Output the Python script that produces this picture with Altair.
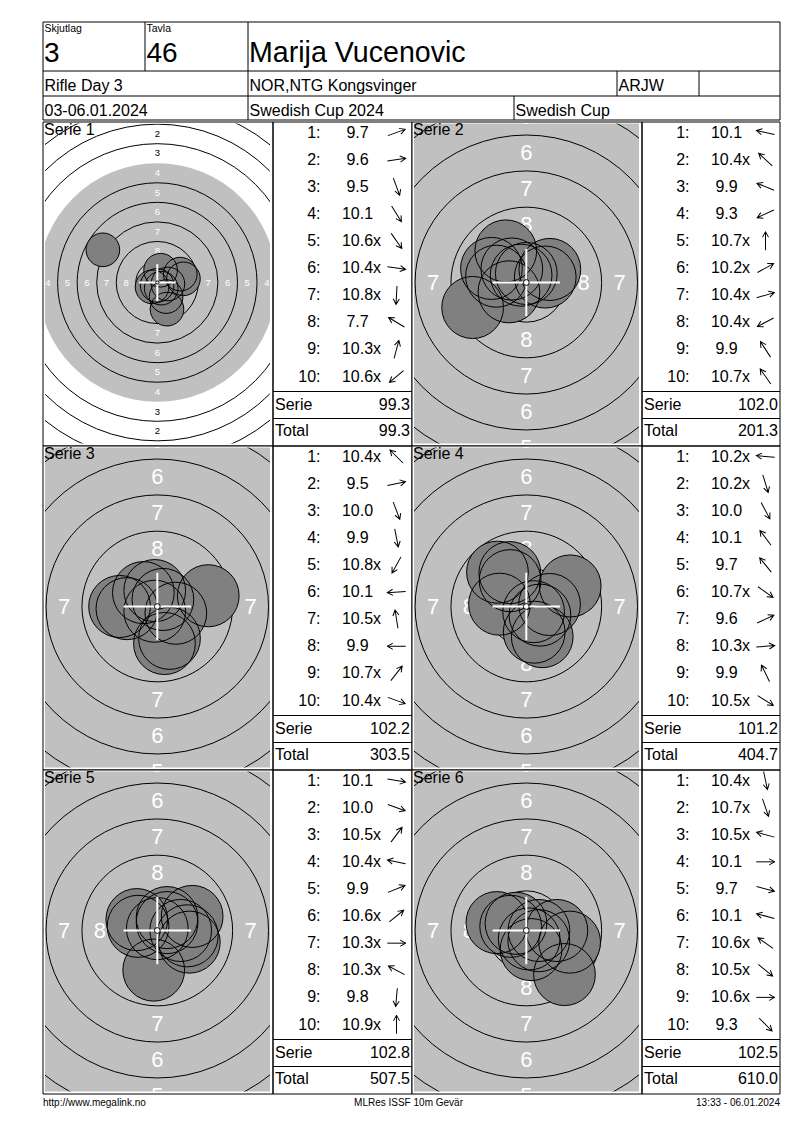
import altair as alt
import pandas as pd

FONT = "Liberation Sans"

# ---------------- values read from the scorecard ----------------
SQUAD_LABEL = "Skjutlag"
SQUAD = "3"
LANE_LABEL = "Tavla"
LANE = "46"
SHOOTER = "Marija Vucenovic"
EVENT = "Rifle Day 3"
CLUB = "NOR,NTG Kongsvinger"
CLASS = "ARJW"
DATES = "03-06.01.2024"
COMPETITION = "Swedish Cup 2024"
CUP = "Swedish Cup"
FOOTER_LEFT = "http://www.megalink.no"
FOOTER_MID = "MLRes ISSF 10m Gevär"
FOOTER_RIGHT = "13:33 - 06.01.2024"
SERIE_WORD = "Serie"
TOTAL_WORD = "Total"

SERIES = ["Serie 1", "Serie 2", "Serie 3", "Serie 4", "Serie 5", "Serie 6"]

S1_SCORES = ["9.7", "9.6", "9.5", "10.1", "10.6x", "10.4x", "10.8x", "7.7", "10.3x", "10.6x"]
S2_SCORES = ["10.1", "10.4x", "9.9", "9.3", "10.7x", "10.2x", "10.4x", "10.4x", "9.9", "10.7x"]
S3_SCORES = ["10.4x", "9.5", "10.0", "9.9", "10.8x", "10.1", "10.5x", "9.9", "10.7x", "10.4x"]
S4_SCORES = ["10.2x", "10.2x", "10.0", "10.1", "9.7", "10.7x", "9.6", "10.3x", "9.9", "10.5x"]
S5_SCORES = ["10.1", "10.0", "10.5x", "10.4x", "9.9", "10.6x", "10.3x", "10.3x", "9.8", "10.9x"]
S6_SCORES = ["10.4x", "10.7x", "10.5x", "10.1", "9.7", "10.1", "10.6x", "10.5x", "10.6x", "9.3"]

# arrow directions (degrees, counter-clockwise from "right")
S1_DIR = [20, 8, -70, -58, -55, -8, -93, 149, 75, -140]
S2_DIR = [168, 137, 158, -155, 90, 29, 16, -152, 123, 125]
S3_DIR = [135, 12, -69, -79, -119, -176, 99, 180, 52, -20]
S4_DIR = [175, -73, -62, 127, 129, -35, 25, 5, 116, -32]
S5_DIR = [-10, -20, 53, 168, 22, 39, 0, 152, -95, 90]
S6_DIR = [-78, -71, 165, 0, -15, 165, 145, -39, 0, -45]

# shot centres on the target (mm from centre, y up)
S1_X = [2.94, 3.34, 1.24, 1.13, 0.50, 1.36, -0.02, -6.96, 0.42, -0.67]
S1_Y = [1.07, 0.47, -3.41, -1.80, -0.72, -0.19, -0.37, 4.18, 1.57, -0.56]
S2_X = [-2.08, -1.01, -2.43, -3.74, 0.00, 1.64, 1.32, -1.21, -1.43, -0.36]
S2_Y = [0.44, 0.94, 0.98, -1.74, 0.63, 0.91, 0.38, -0.65, 2.20, 0.51]
S3_X = [-0.97, 3.55, 0.85, 0.50, -0.18, -2.12, -0.18, -2.63, 0.39, 1.29]
S3_Y = [0.97, 0.75, -2.22, -2.58, -0.33, -0.15, 1.11, 0.00, 0.49, -0.47]
S4_X = [-1.87, 0.55, 1.11, -1.13, -2.01, 0.51, 3.06, 1.62, -1.15, 0.95]
S4_Y = [0.16, -1.79, -2.10, 1.80, 2.39, -0.36, 1.43, 0.14, 2.36, -0.60]
S5_X = [2.09, 2.23, 0.68, -1.34, 2.43, 0.68, 1.63, -1.43, -0.25, 0.00]
S5_Y = [-0.37, -0.81, 0.90, 0.29, 0.98, 0.55, 0.00, 0.76, -2.76, 0.13]
S6_X = [0.33, 0.20, -1.09, 2.13, 3.02, -2.05, -0.72, 0.87, 0.88, 2.66]
S6_Y = [-1.33, -0.59, 0.29, 0.00, -0.81, 0.55, 0.50, -0.71, 0.00, -3.07]

SERIE_SUMS = ["99.3", "102.0", "102.2", "101.2", "102.8", "102.5"]
RUNNING_TOTALS = ["99.3", "201.3", "303.5", "404.7", "507.5", "610.0"]

ALL_SCORES = [S1_SCORES, S2_SCORES, S3_SCORES, S4_SCORES, S5_SCORES, S6_SCORES]
ALL_DIRS = [S1_DIR, S2_DIR, S3_DIR, S4_DIR, S5_DIR, S6_DIR]
ALL_X = [S1_X, S2_X, S3_X, S4_X, S5_X, S6_X]
ALL_Y = [S1_Y, S2_Y, S3_Y, S4_Y, S5_Y, S6_Y]

# ---------------- target geometry (ISSF 10 m air rifle) ----------------
RING_LINES = [2.75, 5.25, 7.75, 10.25, 12.75, 17.75, 20.25, 22.75]
BLACK_R = 15.25
SHOT_R = 2.15
CROSS = 2.35
DOT_R = 0.2

# layout / style
ZOOM = [7.82, 14.35, 14.35, 14.35, 14.35, 14.35]
LABEL_SIZE = [9.5, 22, 22, 22, 22, 22]
PANEL_H = 324
TARGET_W = 230
TABLE_W = [139, 138]
HW, HH = 737, 98
ARROW_PATH = "M-1,0L1,0M0.4,-0.33L1,0L0.4,0.33"


def one():
    return pd.DataFrame({"k": [0]})


def text_layer(txt, x, y, size, align="left", baseline="alphabetic", color="black"):
    return alt.Chart(pd.DataFrame({"t": [txt]})).mark_text(
        x=x, y=y, fontSize=size, align=align, baseline=baseline, font=FONT, color=color
    ).encode(text="t:N")


def rule_layer(x1, y1, x2, y2, color="black", width=1):
    return alt.Chart(one()).mark_rule(color=color, strokeWidth=width).encode(
        x=alt.value(x1), y=alt.value(y1), x2=alt.value(x2), y2=alt.value(y2)
    )


def frame_layer(w, h):
    return alt.Chart(one()).mark_rect(filled=False, color="black", strokeWidth=1).encode(
        x=alt.value(0), y=alt.value(0), x2=alt.value(w), y2=alt.value(h)
    )


def target_chart(i):
    s = ZOOM[i]
    W, H = TARGET_W, PANEL_H
    cx, cy = 114.3, 160.5
    X = alt.X("x:Q", scale=alt.Scale(domain=[-cx / s, (W - cx) / s], nice=False, zero=False), axis=None)
    Y = alt.Y("y:Q", scale=alt.Scale(domain=[-(H - cy) / s, cy / s], nice=False, zero=False), axis=None)
    R = alt.Size("r:Q", scale=alt.Scale(type="pow", exponent=2, domain=[0, 25], range=[0, (50 * s) ** 2]), legend=None)

    disc = pd.DataFrame({"x": [0.0], "y": [0.0], "r": [BLACK_R]})
    rings = pd.DataFrame({"x": 0.0, "y": 0.0, "r": RING_LINES})
    lab_rows = []
    for k in range(1, 9):
        m = 2.5 * (10 - k) - 1.0
        col = "white" if k >= 4 else "black"
        for px, py in [(0, m), (0, -m), (-m, 0), (m, 0)]:
            lab_rows.append({"x": px, "y": py, "t": str(k), "c": col})
    labs = pd.DataFrame(lab_rows)
    shots = pd.DataFrame({"x": ALL_X[i], "y": ALL_Y[i], "r": SHOT_R})
    cross = pd.DataFrame({"x": [-CROSS, 0.0], "x2": [CROSS, 0.0], "y": [0.0, -CROSS], "y2": [0.0, CROSS]})
    dot = pd.DataFrame({"x": [0.0], "y": [0.0], "r": [DOT_R]})

    layers = [
        alt.Chart(disc).mark_point(shape="circle", filled=True, color="#C0C0C0", opacity=1, strokeWidth=0, clip=True).encode(x=X, y=Y, size=R),
        alt.Chart(rings).mark_point(shape="circle", filled=False, color="black", opacity=1, strokeWidth=1, clip=True).encode(x=X, y=Y, size=R),
        alt.Chart(labs).mark_text(font=FONT, fontSize=LABEL_SIZE[i], align="center", baseline="middle", clip=True).encode(
            x=X, y=Y, text="t:N", color=alt.Color("c:N", scale=None)),
        alt.Chart(shots).mark_point(shape="circle", filled=True, color="#808080", opacity=1, strokeWidth=0, clip=True).encode(x=X, y=Y, size=R),
        alt.Chart(shots).mark_point(shape="circle", filled=False, color="black", opacity=1, strokeWidth=1, clip=True).encode(x=X, y=Y, size=R),
        alt.Chart(cross).mark_rule(color="white", strokeWidth=2, clip=True).encode(x=X, y=Y, x2="x2:Q", y2="y2:Q"),
        alt.Chart(dot).mark_point(shape="circle", filled=True, fill="white", stroke="black", strokeWidth=1, opacity=1, clip=True).encode(x=X, y=Y, size=R),
        alt.Chart(one()).mark_rect(filled=False, color="white", strokeWidth=12, clip=True).encode(
            x=alt.value(2 - 6), x2=alt.value(W - 3 + 6), y=alt.value(1.5 - 6), y2=alt.value(H - 2.5 + 6)),
        text_layer(SERIES[i], 1, 12.5, 16),
        frame_layer(W, H),
    ]
    return alt.layer(*layers).properties(width=W, height=H)


def table_chart(i, W):
    H = PANEL_H
    scores = ALL_SCORES[i]
    df = pd.DataFrame({
        "n": list(range(1, 11)),
        "lab": [f"{k}:" for k in range(1, 11)],
        "val": [sc.rstrip("x") for sc in scores],
        "inner": ["x" if sc.endswith("x") else "" for sc in scores],
        "dir": ALL_DIRS[i],
    })
    Yr = alt.Y("n:O", scale=alt.Scale(type="point", domain=list(range(1, 11)), range=[10.5, 254.5], padding=0), axis=None)
    base = alt.Chart(df)
    txt = dict(font=FONT, fontSize=16, baseline="middle")
    layers = [
        base.mark_text(x=47.5, align="right", **txt).encode(y=Yr, text="lab:N"),
        base.mark_text(x=84.5, align="center", **txt).encode(y=Yr, text="val:N"),
        base.mark_text(x=100.1, align="left", **txt).encode(y=Yr, text="inner:N"),
        base.transform_calculate(rot="(360 - datum.dir) % 360").mark_point(
            x=123.5, shape=ARROW_PATH, size=340, filled=False, color="black", strokeWidth=1, opacity=1
        ).encode(y=Yr, angle=alt.Angle("rot:Q", scale=None)),
        rule_layer(0, 269.5, W, 269.5),
        rule_layer(0, 296.5, W, 296.5),
        text_layer(SERIE_WORD, 2, 282.5, 16, baseline="middle"),
        text_layer(SERIE_SUMS[i], W - 2, 282.5, 16, align="right", baseline="middle"),
        text_layer(TOTAL_WORD, 2, 308.8, 16, baseline="middle"),
        text_layer(RUNNING_TOTALS[i], W - 2, 308.8, 16, align="right", baseline="middle"),
        frame_layer(W, H),
    ]
    return alt.layer(*layers).properties(width=W, height=H)


header = alt.layer(
    frame_layer(HW, HH),
    rule_layer(0, 49, HW, 49),
    rule_layer(0, 74, HW, 74),
    rule_layer(102, 0, 102, 49),
    rule_layer(205, 0, 205, HH),
    rule_layer(574, 49, 574, 74),
    rule_layer(656, 49, 656, 74),
    rule_layer(471, 74, 471, HH),
    text_layer(SQUAD_LABEL, 1.5, 9.5, 10.5),
    text_layer(SQUAD, 1, 40, 28),
    text_layer(LANE_LABEL, 103.5, 9.5, 10.5),
    text_layer(LANE, 103.5, 40, 28),
    text_layer(SHOOTER, 206, 40, 28.6),
    text_layer(EVENT, 1.5, 69.3, 16),
    text_layer(CLUB, 206.5, 69.3, 16),
    text_layer(CLASS, 575.5, 69.3, 16),
    text_layer(DATES, 1.5, 94, 16),
    text_layer(COMPETITION, 206.5, 94, 16),
    text_layer(CUP, 472.5, 94, 16),
).properties(width=HW, height=HH)

cells = []
for r in range(3):
    a, b = 2 * r, 2 * r + 1
    cells += [target_chart(a), table_chart(a, TABLE_W[0]), target_chart(b), table_chart(b, TABLE_W[1])]

grid = alt.concat(*cells, columns=4, spacing=0, bounds="flush").resolve_scale(size="independent")

footer = alt.layer(
    text_layer(FOOTER_LEFT, 0, 10.5, 10),
    text_layer(FOOTER_MID, 365.5, 10.5, 10, align="center"),
    text_layer(FOOTER_RIGHT, HW, 10.5, 10, align="right"),
).properties(width=HW, height=20)

chart = alt.vconcat(
    header, grid, footer, spacing=0
).resolve_scale(size="independent").properties(
    padding={"left": 34, "top": 13, "right": 10, "bottom": 10}
).configure_view(strokeWidth=0)

chart.save("out.html", embed_options={"renderer": "svg", "actions": False})
